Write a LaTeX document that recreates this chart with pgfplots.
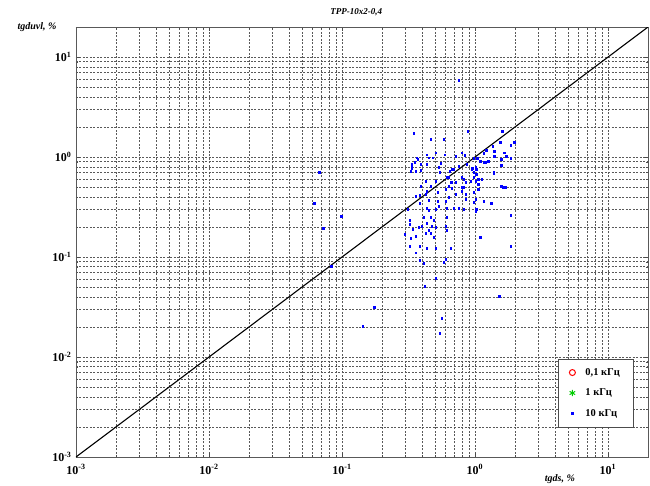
\documentclass[border=0pt]{standalone}
\usepackage{fontspec}
\setmainfont{Liberation Serif}
\usepackage{pgfplots}
\usepackage{pgfplotstable}
\pgfplotsset{compat=1.18}
\pgfplotstableread{
x y
0.0617 0.344
0.0673 0.703
0.0721 0.194
0.0828 0.0807
0.0984 0.255
0.1435 0.0203
0.174 0.0314
0.752 5.85
0.346 1.73
0.879 1.81
0.465 1.50
0.581 1.50
1.61 1.81
1.98 1.40
1.85 1.31
1.55 1.40
1.36 1.28
1.66 1.11
1.40 1.14
1.16 1.09
1.22 1.17
0.792 1.11
0.714 1.02
0.592 1.06
0.506 1.11
0.434 1.06
0.365 0.99
0.352 0.885
0.391 0.845
0.449 0.99
0.481 0.99
0.551 0.865
0.542 0.703
0.391 0.736
0.358 0.719
0.426 0.571
0.465 0.509
0.633 0.627
0.655 0.558
0.633 0.509
0.714 0.558
0.820 0.598
0.849 0.558
0.792 0.498
0.942 0.753
0.975 0.703
1.01 0.789
1.02 0.671
0.926 0.571
1.01 0.571
1.06 0.533
1.10 0.91
1.16 0.885
1.38 0.703
1.63 0.498
1.69 0.498
0.752 0.807
0.690 0.753
0.864 0.845
0.835 1.04
0.975 0.97
1.04 0.97
1.40 1.02
1.72 1.02
1.58 0.95
1.85 0.97
1.26 0.91
1.20 0.885
1.58 0.826
0.371 0.95
0.334 0.807
0.329 0.719
0.434 0.845
0.533 0.789
0.667 0.753
0.644 0.719
0.958 0.771
1.02 0.753
1.38 0.687
1.58 0.509
0.975 0.627
1.06 0.598
1.12 0.598
0.792 0.627
0.612 0.627
0.667 0.558
0.506 0.571
0.391 0.509
0.434 0.454
0.426 0.424
0.358 0.405
0.384 0.414
0.334 0.845
0.334 0.771
0.384 0.344
0.449 0.369
0.434 0.307
0.524 0.361
0.524 0.444
0.601 0.475
0.667 0.487
0.714 0.424
0.792 0.454
0.820 0.498
0.849 0.424
0.849 0.378
0.975 0.444
1.06 0.475
0.975 0.353
1.02 0.300
1.01 0.378
1.16 0.361
1.33 0.344
0.601 0.361
0.633 0.395
0.612 0.307
0.690 0.307
0.752 0.307
0.820 0.300
1.01 0.286
0.533 0.321
0.506 0.300
0.449 0.293
0.411 0.249
0.465 0.249
0.434 0.217
0.489 0.233
0.473 0.203
0.506 0.198
0.378 0.198
0.397 0.203
0.601 0.203
0.612 0.185
0.449 0.185
0.426 0.173
0.465 0.173
0.489 0.157
0.358 0.161
0.612 0.249
0.384 0.128
0.434 0.122
0.506 0.122
0.358 0.111
0.601 0.095
0.581 0.0885
0.411 0.0865
0.312 0.300
0.323 0.233
0.323 0.212
0.340 0.189
0.297 0.169
0.329 0.154
0.323 0.128
0.506 0.0612
0.418 0.0509
0.561 0.0244
0.542 0.0173
1.52 0.0405
1.85 0.261
1.85 0.128
1.10 0.157
0.655 0.122
0.384 0.093
}\dataten
\begin{document}
\begin{tikzpicture}
\begin{axis}[
  xmode=log, ymode=log,
  scale only axis, width=572pt, height=430pt,
  xmin=1e-3, xmax=20, ymin=1e-3, ymax=20,
  xtick={1e-3,1e-2,1e-1,1,10},
  ytick={1e-3,1e-2,1e-1,1,10},
  xticklabels={10\textsuperscript{-3},10\textsuperscript{-2},10\textsuperscript{-1},10\textsuperscript{0},10\textsuperscript{1}},
  yticklabels={10\textsuperscript{-3},10\textsuperscript{-2},10\textsuperscript{-1},10\textsuperscript{0},10\textsuperscript{1}},
  minor xtick={2e-3,3e-3,4e-3,5e-3,6e-3,7e-3,8e-3,9e-3,2e-2,3e-2,4e-2,5e-2,6e-2,7e-2,8e-2,9e-2,0.2,0.3,0.4,0.5,0.6,0.7,0.8,0.9,2,3,4,5,6,7,8,9,20},
  minor ytick={2e-3,3e-3,4e-3,5e-3,6e-3,7e-3,8e-3,9e-3,2e-2,3e-2,4e-2,5e-2,6e-2,7e-2,8e-2,9e-2,0.2,0.3,0.4,0.5,0.6,0.7,0.8,0.9,2,3,4,5,6,7,8,9,20},
  grid=both,
  major grid style={black!65, dash pattern=on 2pt off 1.5pt, line width=0.5pt},
  minor grid style={black!65, dash pattern=on 2pt off 1.5pt, line width=0.5pt},
  tick align=inside,
  major tick length=4pt, minor tick length=2pt,
  tick style={black!70},
  axis line style={black!65, line width=0.7pt},
  ticklabel style={font=\bfseries\fontsize{12}{14}\selectfont},
  xticklabel style={yshift=-4pt},
  yticklabel style={xshift=-1pt},
  title={TPP-10x2-0,4},
  every axis title/.style={at={(axis description cs:0.49,1)}, anchor=center, yshift=15pt, font=\bfseries\itshape\fontsize{9}{11}\selectfont},
  xlabel={tgds, \%},
  ylabel={tgduvl, \%},
  every axis x label/.style={at={(axis description cs:0.846,0)}, anchor=center, yshift=-22pt, font=\bfseries\itshape\fontsize{10}{12}\selectfont},
  every axis y label/.style={at={(axis description cs:0,1)}, anchor=east, xshift=-16pt, font=\bfseries\itshape\fontsize{10}{12}\selectfont},
  legend style={at={(axis description cs:0.974,0.07)}, anchor=south east, draw=black!70, fill=white, font=\bfseries\fontsize{10.5}{12}\selectfont, row sep=8pt, column sep=8pt, inner xsep=11pt, inner ysep=7pt},
  legend cell align=left,
]
\coordinate (o) at (rel axis cs:0,0);
\addplot[black, line width=1.1pt, forget plot] coordinates {(0.001,0.001) (20,20)};
\addplot[only marks, mark=square*, mark size=0.8pt, blue, mark options={draw=blue, fill=blue}, forget plot] table {\dataten};
\addlegendimage{only marks, mark=o, red, mark size=3pt, mark options={line width=1pt}}
\addlegendentry{0,1 кГц}
\addlegendimage{only marks, mark=asterisk, green!80!black, mark size=3.2pt, mark options={line width=1pt}}
\addlegendentry{1 кГц}
\addlegendimage{only marks, mark=square*, blue, mark size=0.8pt}
\addlegendentry{10 кГц}
\end{axis}
\pgfresetboundingbox
\path (o) ++(-76pt,-28pt) rectangle ++(650pt,485pt);
\end{tikzpicture}
\end{document}
